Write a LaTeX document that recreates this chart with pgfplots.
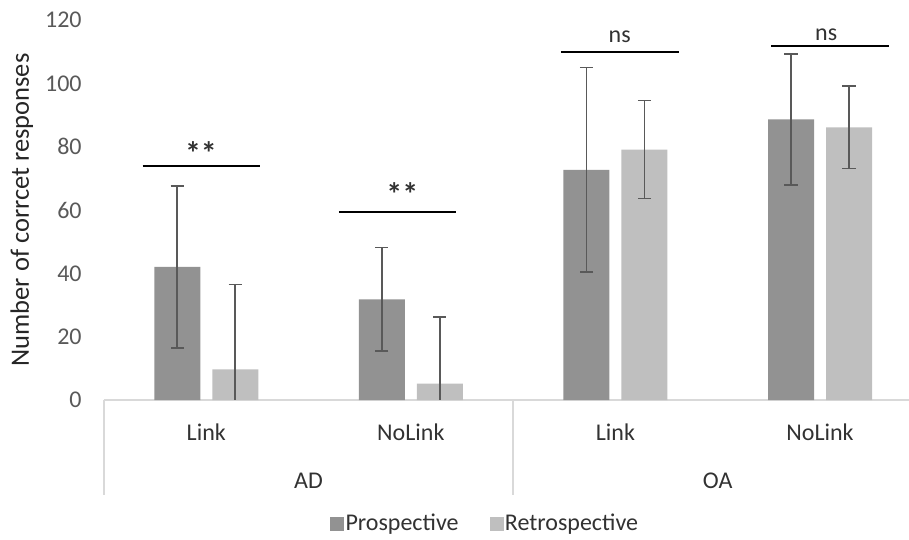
\documentclass[border=0pt]{standalone}
\usepackage{fontspec}
\setmainfont{Carlito}
\usepackage{pgfplots}
\pgfplotsset{compat=1.18}
\definecolor{pros}{RGB}{146,146,146}
\definecolor{retro}{RGB}{191,191,191}
\definecolor{errc}{RGB}{89,89,89}
\definecolor{axc}{RGB}{217,217,217}
\definecolor{tickc}{RGB}{89,89,89}
\definecolor{txt}{RGB}{50,50,50}
\newcommand{\tf}{\fontsize{12bp}{14bp}\selectfont}
\newcommand{\starfont}{\fontsize{16bp}{18bp}\selectfont\bfseries}
\begin{document}
\begin{tikzpicture}
\begin{axis}[
  scale only axis, width=402.5bp, height=190bp,
  ybar, bar width=23bp,
  xmin=-0.5, xmax=3.435, ymin=0, ymax=120,
  axis x line*=bottom, axis y line*=left,
  x axis line style={axc, line width=1bp},
  y axis line style={draw=none},
  ytick={0,20,...,120},
  xtick={0,1,2,3}, xticklabels={Link,NoLink,Link,NoLink},
  major tick length=0pt,
  tick label style={font=\tf},
  /pgf/number format/assume math mode=true,
  yticklabel style={color=tickc, anchor=east, inner sep=0pt, xshift=-11bp},
  xticklabel style={color=txt, anchor=base, inner sep=0pt, yshift=-20bp},
  clip=false,
  legend image code/.code={\fill[#1,draw=none] (0bp,-3.5bp) rectangle (7bp,3.5bp);},
  legend style={at={(rel axis cs:0.473,-0.326)}, anchor=center, draw=none, fill=none,
    legend columns=2, font=\tf, text=txt, nodes={inner sep=0.6bp},
    /tikz/every even column/.append style={column sep=15bp}},
  error bars/error bar style={errc, line width=0.8bp},
  error bars/error mark options={errc, rotate=90, mark size=3.3bp, line width=0.8bp},
]
% Prospective
\addplot[fill=pros, draw=none, bar shift=-14.5bp,
  error bars/.cd, y dir=both, y explicit]
  coordinates {
  (0,42.0) +- (0,25.5)
  (1,31.8) +- (0,16.3)
  (2,72.7) +- (0,32.3)
  (3,88.6) +- (0,20.7)
  };
\addlegendentry{Prospective}
% Retrospective (upper error bars)
\addplot[fill=retro, draw=none, bar shift=14.5bp,
  error bars/.cd, y dir=plus, y explicit]
  coordinates {
  (0,9.7) += (0,26.8)
  (1,5.2) += (0,21.1)
  (2,79.1) += (0,15.5)
  (3,86.1) += (0,13.0)
  };
\addlegendentry{Retrospective}
% Retrospective lower error bars (OA, with caps)
\addplot[forget plot, fill=none, draw=none, bar shift=14.5bp,
  error bars/.cd, y dir=minus, y explicit]
  coordinates {
  (2,79.1) -= (0,15.5)
  (3,86.1) -= (0,13.0)
  };
% Retrospective lower error bars (AD, cut at zero, no caps)
\addplot[forget plot, fill=none, draw=none, bar shift=14.5bp,
  error bars/.cd, y dir=minus, y explicit, error mark=none]
  coordinates {
  (0,9.7) -= (0,9.7)
  (1,5.2) -= (0,5.2)
  };
% significance lines
\addplot[forget plot, sharp plot, black, line width=1.2bp, mark=none] coordinates {(-0.311,73.9) (0.262,73.9)};
\addplot[forget plot, sharp plot, black, line width=1.2bp, mark=none] coordinates {(0.648,59.4) (1.223,59.4)};
\addplot[forget plot, sharp plot, black, line width=1.2bp, mark=none] coordinates {(1.733,109.8) (2.309,109.8)};
\addplot[forget plot, sharp plot, black, line width=1.1bp, mark=none] coordinates {(2.762,111.9) (3.336,111.9)};
\node[anchor=base, font=\starfont, text=txt] at (axis cs:-0.026,74.3) {**};
\node[anchor=base, font=\starfont, text=txt] at (axis cs:0.958,61.5) {**};
\node[anchor=base, font=\tf, text=txt] at (axis cs:2.021,112.9) {ns};
\node[anchor=base, font=\tf, text=txt] at (axis cs:3.03,113.4) {ns};
% category separators and group labels
\draw[axc, line width=1bp] (axis cs:-0.5,0) -- ([yshift=-47.5bp]axis cs:-0.5,0);
\draw[axc, line width=1bp] (axis cs:1.5,0) -- ([yshift=-47.5bp]axis cs:1.5,0);
\node[anchor=base, font=\tf, text=txt] at ([yshift=-44bp]axis cs:0.5,0) {AD};
\node[anchor=base, font=\tf, text=txt] at ([yshift=-44bp]axis cs:2.5,0) {OA};
\node[rotate=90, anchor=base, font=\fontsize{13.25bp}{15bp}\selectfont, text=black!85]
  at ([xshift=-37.5bp]rel axis cs:0,0.5) {Number of corrcet responses};
\end{axis}
\pgfresetboundingbox
\path ([shift={(-52bp,-70bp)}]current axis.south west) rectangle ([shift={(402.5bp,200bp)}]current axis.south west);
\end{tikzpicture}
\end{document}
